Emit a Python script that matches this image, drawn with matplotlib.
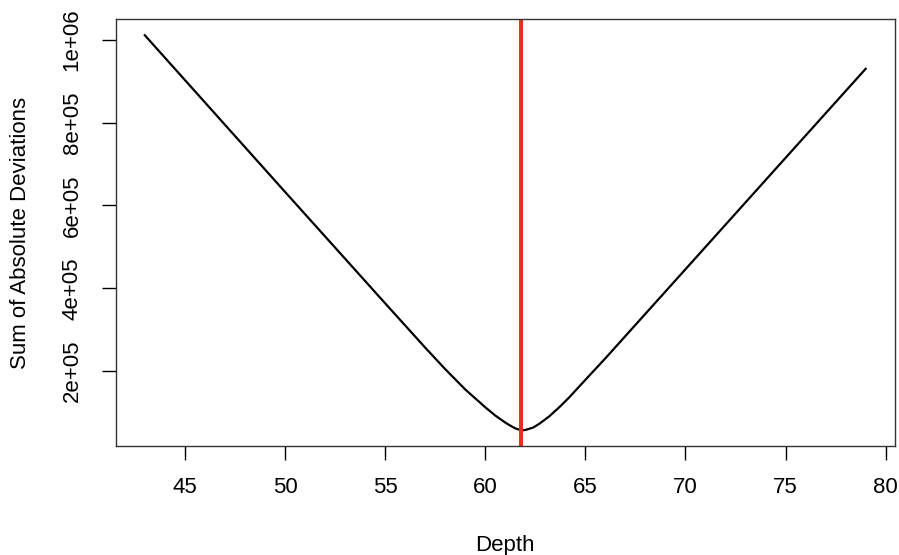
import matplotlib.pyplot as plt

plt.rcParams['font.family'] = ['Liberation Sans', 'DejaVu Sans']

# values
depth = [43, 45, 50, 55, 57, 58, 59, 60, 60.5, 61, 61.2, 61.5, 61.8, 62.0,
         62.4, 62.7, 63.2, 63.7, 64.2, 65, 66, 70, 75, 79]
sad = [1011000, 903000, 633000, 364000, 257000, 205000, 156000, 113000,
       93000, 76000, 70000, 62000, 57000, 58000, 64000, 73000, 91000,
       113000, 137000, 179000, 231000, 446000, 715000, 930000]
median_depth = 61.8

xticks = [45, 50, 55, 60, 65, 70, 75, 80]
yticks = [200000, 400000, 600000, 800000, 1000000]
ytick_labels = ["2e+05", "4e+05", "6e+05", "8e+05", "1e+06"]

fig = plt.figure(figsize=(8.99, 5.55), dpi=100)
ax = fig.add_axes([0.129, 0.196, 0.866, 0.769])

ax.plot(depth, sad, color="black", lw=1.6)
ax.axvline(median_depth, color="#EE2C1E", lw=2.9)

# R-style 4% padding on the data range
xr = max(depth) - min(depth)
yr = max(sad) - min(sad)
ax.set_xlim(min(depth) - 0.04 * xr, max(depth) + 0.04 * xr)
ax.set_ylim(min(sad) - 0.04 * yr, max(sad) + 0.04 * yr)

ax.set_xticks(xticks)
ax.set_xticklabels([str(t) for t in xticks])
ax.set_yticks(yticks)
ax.set_yticklabels(ytick_labels, rotation=90, va="center")

ax.tick_params(direction="out", length=10, width=1.0, labelsize=16,
               colors="black")
ax.tick_params(axis="x", pad=12)
ax.tick_params(axis="y", pad=14)

for s in ax.spines.values():
    s.set_linewidth(1.0)
    s.set_color("#333333")

ax.set_xlabel("Depth", fontsize=16)
ax.xaxis.label.set_va("center")
ax.xaxis.set_label_coords(0.5, -0.232)
ax.set_ylabel("Sum of Absolute Deviations", fontsize=16)
ax.yaxis.label.set_va("center")
ax.yaxis.set_label_coords(-0.123, 0.5)

plt.savefig("out.png", dpi=100)
